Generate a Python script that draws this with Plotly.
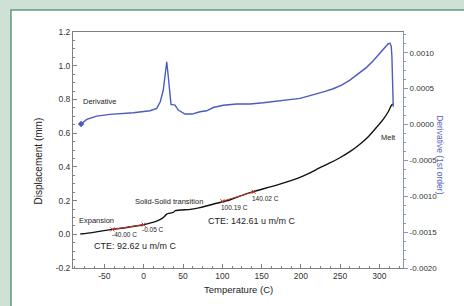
import plotly.graph_objects as go

# Displacement curve (temperature C, displacement mm)
disp_temp = [-80.7, -65.8, -44.5, -23.4, -2.2, 14.8, 20.7, 25.4, 29.3, 31.8, 37.7, 40.2,
             59.3, 71.6, 92.9, 110.0, 120.0, 135.2, 169.2, 198.9, 211.6, 224.3, 237.0, 249.7,
             262.4, 275.1, 285.8, 296.4, 304.8, 311.2, 315.5, 317.2]
disp_mm = [0.002, 0.010, 0.026, 0.039, 0.055, 0.075, 0.087, 0.101, 0.120, 0.124, 0.130, 0.140,
           0.148, 0.158, 0.184, 0.205, 0.222, 0.247, 0.292, 0.338, 0.365, 0.395, 0.423, 0.454,
           0.490, 0.534, 0.579, 0.635, 0.682, 0.727, 0.767, 0.773]

# Derivative curve (temperature C, 1st order derivative)
deriv_temp = [-79.7, -72.5, -59.8, -42.9, -13.2, 8.0, 16.5, 21.1, 24.9, 28.0, 29.3, 31.3, 33.5,
              34.7, 39.8, 44.0, 52.5, 61.5, 71.6, 80.2, 88.5, 101.3, 118.3, 135.2, 152.2, 173.4,
              198.9, 209.4, 220.1, 230.7, 241.2, 251.9, 262.4, 273.0, 283.7, 292.1, 300.6, 307.0,
              311.2, 313.4, 315.0, 315.9, 316.3, 316.8, 317.6]
deriv_val = [0.000007, 0.000072, 0.000118, 0.000142, 0.000164, 0.000192, 0.000226, 0.000318,
             0.000481, 0.000805, 0.000875, 0.000666, 0.000341, 0.000281, 0.000272, 0.000202,
             0.000146, 0.000146, 0.000178, 0.000192, 0.000237, 0.000268, 0.000286, 0.000286,
             0.000304, 0.000332, 0.000365, 0.000397, 0.000435, 0.000463, 0.000499, 0.000550,
             0.000620, 0.000704, 0.000797, 0.000889, 0.000992, 0.001076, 0.001126, 0.001131,
             0.001094, 0.000945, 0.000666, 0.000387, 0.000248]

# CTE fit segments
cte1_temp = [-40.00, -0.05]
cte1_mm = [0.029, 0.057]
cte2_temp = [100.19, 140.02]
cte2_mm = [0.196, 0.252]

# Tick labels
x_ticks = [-50, 0, 50, 100, 150, 200, 250, 300]
x_labels = ["-50", "0", "50", "100", "150", "200", "250", "300"]
y_ticks = [-0.2, 0.0, 0.2, 0.4, 0.6, 0.8, 1.0, 1.2]
y_labels = ["-0.2", "0.0", "0.2", "0.4", "0.6", "0.8", "1.0", "1.2"]
y2_ticks = [-0.002, -0.0015, -0.001, -0.0005, 0.0, 0.0005, 0.001]
y2_labels = ["-0.0020", "-0.0015", "-0.0010", "-0.0005", "0.0000", "0.0005", "0.0010"]

# Text labels (text, temperature, displacement, size)
labels = [
    ("Derivative", -79.8, 0.786, 7.5),
    ("Expansion", -84.9, 0.083, 7.5),
    ("-40.00 C", -42.9, -0.002, 6.5),
    ("-0.05 C", -4.7, 0.031, 6.5),
    ("CTE: 92.62 u m/m C", -65.8, -0.071, 9),
    ("Solid-Solid transition", -13.6, 0.196, 7.5),
    ("100.19 C", 96.2, 0.158, 6.5),
    ("140.02 C", 135.2, 0.214, 6.5),
    ("CTE: 142.61 u m/m C", 79.3, 0.079, 9),
    ("Melt", 299.7, 0.573, 7.5),
]

FONT = "Liberation Sans, Arial, sans-serif"
BLUE = "#4a5cbf"
AXBLUE = "#8b92cf"
GRAY = "#808080"
PAGE_BG = "#cfe0d5"

fig = go.Figure()
fig.add_trace(go.Scatter(x=disp_temp, y=disp_mm, mode="lines", line_shape="spline",
                         line=dict(color="#111111", width=1.4, smoothing=0.6), showlegend=False))
fig.add_trace(go.Scatter(x=cte1_temp, y=cte1_mm, mode="lines+markers",
                         line=dict(color="#c0392b", width=1),
                         marker=dict(symbol="x-thin", size=4, line=dict(color="#c0392b", width=1)),
                         showlegend=False))
fig.add_trace(go.Scatter(x=cte2_temp, y=cte2_mm, mode="lines+markers",
                         line=dict(color="#c0392b", width=1),
                         marker=dict(symbol="x-thin", size=4, line=dict(color="#c0392b", width=1)),
                         showlegend=False))
fig.add_trace(go.Scatter(x=deriv_temp, y=deriv_val, mode="lines", yaxis="y2",
                         line=dict(color=BLUE, width=1.4), showlegend=False))
fig.add_trace(go.Scatter(x=deriv_temp[:1], y=deriv_val[:1], mode="markers", yaxis="y2",
                         marker=dict(symbol="diamond", size=5, color=BLUE), showlegend=False))

for txt, tx, ty, sz in labels:
    fig.add_annotation(x=tx, y=ty, text=txt, showarrow=False, xanchor="left", yanchor="middle",
                       font=dict(family=FONT, size=sz, color="#222222"))

# axis titles
fig.add_annotation(xref="paper", yref="paper", x=-0.105, y=0.453, text="Displacement (mm)",
                   textangle=-90, showarrow=False, xanchor="center", yanchor="middle",
                   font=dict(family=FONT, size=10, color="#222222"))
fig.add_annotation(xref="paper", yref="paper", x=0.5, y=-0.092, text="Temperature (C)",
                   showarrow=False, xanchor="center", yanchor="middle",
                   font=dict(family=FONT, size=9.5, color="#222222"))
fig.add_annotation(xref="paper", yref="paper", x=1.11, y=0.477, text="Derivative (1st order)",
                   textangle=90, showarrow=False, xanchor="center", yanchor="middle",
                   font=dict(family=FONT, size=8.5, color="#5563c0"))

# page background and white panel with green border
fig.add_shape(type="rect", xref="paper", yref="paper", x0=-0.4, x1=1.4, y0=-0.4, y1=1.4,
              fillcolor=PAGE_BG, line=dict(width=0), layer="below")
fig.add_shape(type="rect", xref="paper", yref="paper", x0=-0.188, x1=1.3, y0=-0.3, y1=1.093,
              fillcolor="white", line=dict(color="#5f9f82", width=1.6), layer="below")

fig.update_layout(
    width=464, height=306,
    margin=dict(l=73, r=61, t=32, b=38),
    paper_bgcolor=PAGE_BG, plot_bgcolor="white",
    font=dict(family=FONT, size=8, color="#333333"),
    xaxis=dict(range=[-90, 330], tickmode="array", tickvals=x_ticks, ticktext=x_labels,
               ticks="inside", ticklen=4, tickcolor=GRAY, showgrid=False, zeroline=False,
               showline=True, linecolor=GRAY, linewidth=1, mirror=True,
               minor=dict(dtick=12.5, tick0=0, ticks="inside", ticklen=2, tickcolor=GRAY),
               tickfont=dict(family=FONT, size=8.5, color="#333333")),
    yaxis=dict(range=[-0.2, 1.2], tickmode="array", tickvals=y_ticks, ticktext=y_labels,
               ticks="inside", ticklen=4, tickcolor=GRAY, showgrid=False, zeroline=False,
               showline=True, linecolor=GRAY, linewidth=1,
               minor=dict(dtick=0.05, tick0=0, ticks="inside", ticklen=2, tickcolor=GRAY),
               tickfont=dict(family=FONT, size=8.5, color="#333333")),
    yaxis2=dict(range=[-0.002, 0.00129], overlaying="y", side="right", tickmode="array",
                tickvals=y2_ticks, ticktext=y2_labels, ticks="outside", ticklen=4,
                tickcolor=AXBLUE, showgrid=False, zeroline=False, showline=True,
                linecolor=AXBLUE, linewidth=1,
                minor=dict(dtick=0.000125, tick0=0, ticks="outside", ticklen=2, tickcolor=AXBLUE),
                tickfont=dict(family=FONT, size=8, color="#333333")),
)

fig.write_html(
    "out.html",
    config={"displayModeBar": False},
    post_script="document.body.style.margin='0';"
                "document.body.style.background='" + PAGE_BG + "';"
                "document.documentElement.style.background='" + PAGE_BG + "';",
)
